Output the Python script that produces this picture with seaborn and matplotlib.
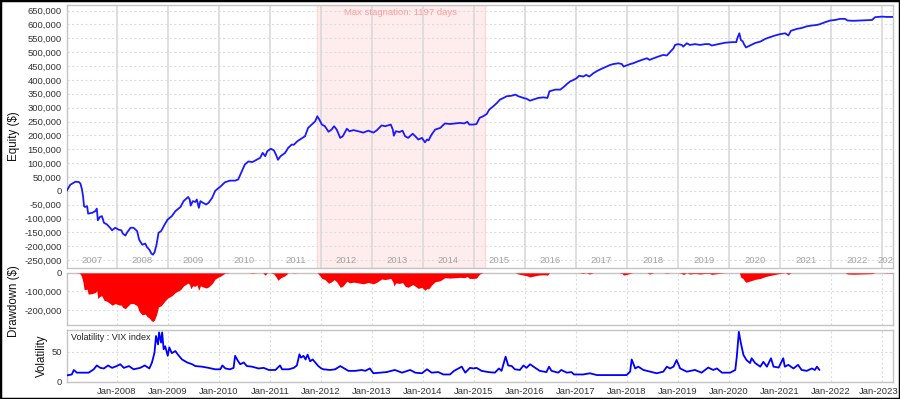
import matplotlib
matplotlib.use("Agg")
import numpy as np
import pandas as pd
import matplotlib.pyplot as plt
import matplotlib.transforms as mtransforms
from matplotlib.ticker import FuncFormatter
import seaborn as sns

# ---------------- data (decimal years) ----------------
eq_years = [2007.02, 2007.09, 2007.19, 2007.26, 2007.29, 2007.32, 2007.34, 2007.36, 2007.38, 2007.42,
            2007.44, 2007.52, 2007.58, 2007.61, 2007.63, 2007.67, 2007.71, 2007.75, 2007.81, 2007.87,
            2007.91, 2007.97, 2008.04, 2008.09, 2008.12, 2008.17, 2008.20, 2008.27, 2008.33, 2008.40,
            2008.44, 2008.50, 2008.56, 2008.59, 2008.64, 2008.68, 2008.71, 2008.74, 2008.78, 2008.82,
            2008.87, 2008.94, 2009.00, 2009.08, 2009.15, 2009.25, 2009.31, 2009.40, 2009.43, 2009.45,
            2009.49, 2009.54, 2009.57, 2009.61, 2009.64, 2009.69, 2009.75, 2009.80, 2009.87, 2009.93,
            2009.98, 2010.03, 2010.12, 2010.22, 2010.32, 2010.38, 2010.45, 2010.51, 2010.58, 2010.66,
            2010.74, 2010.81, 2010.86, 2010.91, 2010.95, 2011.02, 2011.08, 2011.12, 2011.16, 2011.21,
            2011.30, 2011.36, 2011.43, 2011.47, 2011.54, 2011.59, 2011.69, 2011.75, 2011.82, 2011.89,
            2011.93, 2011.97, 2012.02, 2012.08, 2012.15, 2012.21, 2012.26, 2012.31, 2012.38, 2012.43,
            2012.51, 2012.56, 2012.64, 2012.73, 2012.83, 2012.93, 2013.03, 2013.10, 2013.19, 2013.26,
            2013.37, 2013.41, 2013.43, 2013.47, 2013.54, 2013.60, 2013.65, 2013.71, 2013.80, 2013.85,
            2013.91, 2013.98, 2014.04, 2014.08, 2014.11, 2014.17, 2014.24, 2014.34, 2014.43, 2014.53,
            2014.63, 2014.73, 2014.81, 2014.87, 2014.91, 2014.99, 2015.05, 2015.11, 2015.18, 2015.25,
            2015.30, 2015.38, 2015.45, 2015.51, 2015.58, 2015.64, 2015.74, 2015.81, 2015.87, 2015.97,
            2016.03, 2016.10, 2016.16, 2016.26, 2016.36, 2016.44, 2016.48, 2016.52, 2016.59, 2016.69,
            2016.75, 2016.82, 2016.88, 2016.95, 2017.01, 2017.06, 2017.14, 2017.20, 2017.26, 2017.34,
            2017.42, 2017.50, 2017.60, 2017.67, 2017.73, 2017.83, 2017.90, 2017.93, 2017.99, 2018.06,
            2018.12, 2018.20, 2018.29, 2018.39, 2018.44, 2018.52, 2018.61, 2018.71, 2018.78, 2018.84,
            2018.91, 2018.94, 2019.00, 2019.07, 2019.10, 2019.17, 2019.23, 2019.33, 2019.43, 2019.53,
            2019.61, 2019.66, 2019.79, 2019.92, 2020.05, 2020.14, 2020.16, 2020.20, 2020.23, 2020.27,
            2020.29, 2020.33, 2020.41, 2020.51, 2020.61, 2020.71, 2020.80, 2020.90, 2021.00, 2021.10,
            2021.16, 2021.21, 2021.33, 2021.42, 2021.52, 2021.62, 2021.72, 2021.78, 2021.88, 2021.98,
            2022.08, 2022.17, 2022.27, 2022.32, 2022.44, 2022.57, 2022.70, 2022.80, 2022.86, 2022.99,
            2023.09, 2023.20]
eq_values = [0, 22000, 33000, 32000, 26000, 5000, -19000, -55000, -58000, -55000,
             -82000, -79000, -73000, -64000, -106000, -94000, -91000, -115000, -121000, -133000,
             -142000, -133000, -140000, -142000, -154000, -161000, -151000, -133000, -133000, -145000,
             -176000, -194000, -190000, -202000, -212000, -226000, -230000, -222000, -194000, -151000,
             -145000, -121000, -103000, -91000, -73000, -58000, -37000, -22000, -31000, -53000,
             -37000, -40000, -31000, -61000, -37000, -43000, -49000, -43000, -25000, 0,
             8000, 15000, 31000, 37000, 37000, 41000, 70000, 95000, 106000, 104000,
             112000, 119000, 137000, 125000, 143000, 152000, 146000, 131000, 112000, 125000,
             137000, 155000, 167000, 166000, 179000, 185000, 197000, 227000, 239000, 251000,
             269000, 257000, 239000, 233000, 213000, 221000, 233000, 221000, 191000, 197000,
             224000, 215000, 219000, 215000, 210000, 217000, 210000, 219000, 236000, 233000,
             239000, 221000, 199000, 215000, 212000, 217000, 197000, 191000, 206000, 197000,
             185000, 191000, 175000, 185000, 182000, 203000, 221000, 227000, 243000, 241000,
             243000, 245000, 243000, 249000, 239000, 239000, 241000, 263000, 269000, 277000,
             293000, 305000, 317000, 329000, 335000, 341000, 343000, 347000, 341000, 335000,
             332000, 325000, 329000, 335000, 337000, 335000, 359000, 361000, 365000, 365000,
             373000, 385000, 394000, 400000, 406000, 415000, 412000, 418000, 412000, 424000,
             433000, 440000, 448000, 454000, 457000, 460000, 457000, 448000, 452000, 457000,
             460000, 466000, 472000, 478000, 472000, 478000, 484000, 490000, 488000, 500000,
             514000, 526000, 529000, 526000, 520000, 532000, 526000, 529000, 526000, 529000,
             529000, 524000, 529000, 534000, 536000, 536000, 550000, 568000, 544000, 538000,
             529000, 517000, 524000, 533000, 538000, 548000, 554000, 560000, 565000, 568000,
             560000, 577000, 584000, 587000, 593000, 596000, 598000, 601000, 608000, 614000,
             616000, 620000, 620000, 614000, 613000, 614000, 615000, 616000, 626000, 628000,
             627000, 627000]

vix_years = [2007.03, 2007.12, 2007.16, 2007.22, 2007.45, 2007.55, 2007.61, 2007.68, 2007.75, 2007.83,
             2007.91, 2008.00, 2008.07, 2008.14, 2008.24, 2008.33, 2008.46, 2008.55, 2008.64, 2008.69,
             2008.74, 2008.77, 2008.81, 2008.83, 2008.87, 2008.89, 2008.92, 2008.95, 2009.00, 2009.03,
             2009.08, 2009.15, 2009.20, 2009.28, 2009.38, 2009.48, 2009.54, 2009.67, 2009.80, 2009.93,
             2010.03, 2010.07, 2010.13, 2010.22, 2010.29, 2010.32, 2010.36, 2010.38, 2010.42, 2010.49,
             2010.55, 2010.65, 2010.78, 2010.88, 2010.98, 2011.11, 2011.20, 2011.24, 2011.37, 2011.47,
             2011.53, 2011.58, 2011.61, 2011.66, 2011.70, 2011.74, 2011.79, 2011.84, 2011.89, 2011.95,
             2012.01, 2012.05, 2012.18, 2012.28, 2012.38, 2012.44, 2012.54, 2012.67, 2012.80, 2012.87,
             2012.96, 2013.03, 2013.16, 2013.29, 2013.45, 2013.59, 2013.75, 2013.85, 2013.98, 2014.08,
             2014.17, 2014.30, 2014.40, 2014.53, 2014.61, 2014.76, 2014.83, 2014.92, 2014.99, 2015.05,
             2015.15, 2015.28, 2015.41, 2015.49, 2015.54, 2015.62, 2015.67, 2015.74, 2015.80, 2015.90,
             2015.97, 2016.03, 2016.10, 2016.20, 2016.29, 2016.42, 2016.47, 2016.52, 2016.65, 2016.71,
             2016.82, 2016.91, 2016.96, 2017.14, 2017.27, 2017.41, 2017.60, 2017.80, 2017.99, 2018.06,
             2018.09, 2018.16, 2018.22, 2018.32, 2018.45, 2018.58, 2018.71, 2018.78, 2018.84, 2018.91,
             2018.97, 2019.04, 2019.17, 2019.33, 2019.46, 2019.59, 2019.69, 2019.76, 2019.86, 2020.02,
             2020.12, 2020.15, 2020.19, 2020.23, 2020.28, 2020.34, 2020.41, 2020.44, 2020.51, 2020.61,
             2020.67, 2020.74, 2020.82, 2020.87, 2020.97, 2021.06, 2021.09, 2021.16, 2021.26, 2021.35,
             2021.42, 2021.52, 2021.62, 2021.68, 2021.72, 2021.77]
vix_values = [10.6, 12, 19.5, 15, 15, 20.6, 27, 23, 22, 27,
              23, 26, 29, 23, 26, 20.6, 23, 27, 22, 31.7,
              48, 76, 62, 82, 65, 82, 54, 59, 43, 57,
              47.5, 51, 45, 37, 32, 29, 26, 25, 23, 20.6,
              20.6, 27, 22, 20.6, 23, 43, 37, 34, 29, 32,
              26, 25, 22, 23, 19.5, 19.5, 27, 20.6, 20.6, 23,
              27, 45.6, 40, 43, 37, 45, 34, 37, 32, 26,
              22, 20.6, 19.5, 20.6, 26, 23, 18, 18, 19.5, 18,
              22, 14, 15, 16, 19.5, 15, 19.5, 15, 14, 20.6,
              15, 16, 12, 12, 18, 25, 15, 23, 22, 23,
              18, 16, 15, 22, 18, 41.7, 27, 26, 20.6, 19.5,
              27, 23, 29, 23, 18, 16, 25, 18, 15, 19.5,
              15, 16, 12, 12, 14, 11, 11, 11, 11, 16.7,
              37, 22, 25, 19.5, 16.7, 14, 16.7, 25, 22, 25,
              36, 22, 16.7, 19.5, 15, 23.5, 19.5, 22, 15, 15,
              19.5, 41.7, 83, 64, 44.5, 36, 31, 39, 31, 25,
              33, 25, 39, 25, 23.5, 39, 25, 28, 22, 28,
              19.5, 18, 22, 19.5, 25, 19.5]

stagnation_start = 2011.93
stagnation_days = 1197
year_ticks = list(range(2008, 2024))
year_names = list(range(2007, 2024))

# ---------------- style ----------------
sns.set_style("white")
plt.rcParams["font.family"] = ["Liberation Sans", "DejaVu Sans"]

X0, X1 = 2007.02, 2023.21
line_color = "#1a1aff"
frame_color = "#c4c4c4"
grid_color = "#dedede"
tick_color = "#333333"

fig = plt.figure(figsize=(9, 3.99), dpi=100)
L, W = 0.0741, 0.9181
ax1 = fig.add_axes([L, 0.3283, W, 0.6592])
ax2 = fig.add_axes([L, 0.1855, W, 0.1310])
ax3 = fig.add_axes([L, 0.0434, W, 0.1295])

eq = pd.DataFrame({"year": eq_years, "equity": eq_values})
eq["drawdown"] = eq["equity"] - eq["equity"].cummax()
vix = pd.DataFrame({"year": vix_years, "vix": vix_values})

thousands = FuncFormatter(lambda v, p: f"{int(round(v)):,}")

# ---- equity panel ----
stag_end = stagnation_start + stagnation_days / 365.25
ax1.axvspan(stagnation_start, stag_end, facecolor="#ffeded", edgecolor="#ffd8d8", lw=1, zorder=0)
sns.lineplot(data=eq, x="year", y="equity", ax=ax1, color=line_color, linewidth=1.3, zorder=3)
ax1.set_xlim(X0, X1)
ax1.set_ylim(-278000, 670000)
ax1.set_yticks(range(-250000, 650001, 50000))
ax1.yaxis.set_major_formatter(thousands)
ax1.set_xticks(year_ticks)
ax1.xaxis.grid(True, color="#d9d9d9", lw=1.2, ls="-", zorder=1)
ax1.yaxis.grid(True, color=grid_color, lw=0.8, ls=(0, (2, 2)), zorder=1)
ax1.tick_params(axis="x", length=0, labelbottom=False)
ax1.set_xlabel("")
ax1.set_ylabel("Equity ($)", fontsize=8.3, color="#111111")
ax1.yaxis.set_label_coords(-0.056, 0.5)
trans = mtransforms.blended_transform_factory(ax1.transData, ax1.transAxes)
for yr in year_names:
    a, b = max(yr, X0), min(yr + 1, X1)
    c = (a + b) / 2 if yr < 2023 else a + 0.105
    ax1.text(c, 0.030, str(yr), transform=trans, ha="center", va="center",
             fontsize=6.8, color="#a3a3a3", clip_on=True)
ax1.text((stagnation_start + stag_end) / 2, 0.972, f"Max stagnation: {stagnation_days} days",
         transform=trans, ha="center", va="center", fontsize=6.8, color="#ff9c9c")

# ---- drawdown panel ----
ax2.fill_between(eq["year"], eq["drawdown"], 0, color="#ff0000", lw=0, zorder=3)
ax2.set_xlim(X0, X1)
ax2.set_ylim(-282000, 1000)
ax2.set_yticks([0, -100000, -200000])
ax2.yaxis.set_major_formatter(thousands)
ax2.set_xticks(year_ticks)
ax2.tick_params(axis="x", length=0, labelbottom=False)
ax2.grid(True, color=grid_color, lw=0.8, ls=(0, (2, 2)), zorder=1)
ax2.set_ylabel("Drawdown ($)", fontsize=8.3, color="#111111")
ax2.yaxis.set_label_coords(-0.056, 0.45)

# ---- volatility panel ----
sns.lineplot(data=vix, x="year", y="vix", ax=ax3, color="#0000ff", linewidth=1.3, zorder=3)
ax3.set_xlim(X0, X1)
ax3.set_ylim(0, 86)
ax3.set_yticks([0, 50])
ax3.set_xticks(year_ticks)
ax3.set_xticklabels([f"Jan-{y}" for y in year_ticks])
ax3.grid(True, color=grid_color, lw=0.8, ls=(0, (2, 2)), zorder=1)
ax3.set_xlabel("")
ax3.set_ylabel("Volatility", fontsize=8.3, color="#111111")
ax3.yaxis.set_label_coords(-0.023, 0.5)
ax3.text(0.005, 0.86, "Volatility : VIX index", transform=ax3.transAxes,
         ha="left", va="center", fontsize=6.5, color="#222222")

for ax in (ax1, ax2, ax3):
    for s in ax.spines.values():
        s.set_color(frame_color)
        s.set_linewidth(1.0)
    ax.tick_params(axis="y", length=2, width=0.6, color="#999999", pad=1.5,
                   labelsize=6.8, labelcolor=tick_color)
ax3.tick_params(axis="x", length=2, width=0.6, color="#999999", pad=2,
                labelsize=6.8, labelcolor=tick_color)

# keep the last tick label inside the figure edge
last = ax3.get_xticklabels()[-1]
last.set_transform(last.get_transform() +
                   mtransforms.ScaledTranslation(-4 / 100, 0, fig.dpi_scale_trans))

fig.add_artist(plt.Rectangle((0, 0), 1, 1, transform=fig.transFigure, fill=False,
                             edgecolor="black", lw=2.5))
fig.savefig("out.png", dpi=100)
